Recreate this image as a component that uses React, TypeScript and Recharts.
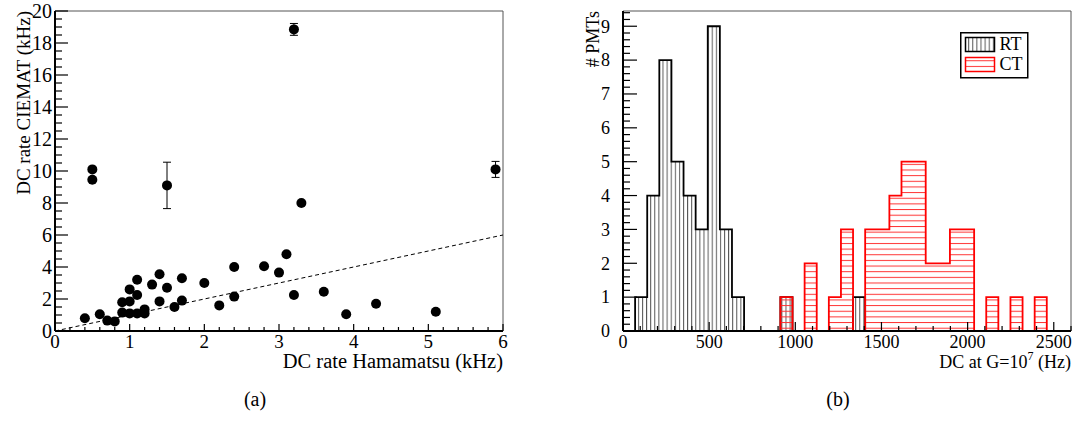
import React from 'react'
import {
  ScatterChart, Scatter, ErrorBar, AreaChart, Area,
  XAxis, YAxis, ReferenceLine, Label, Legend,
} from 'recharts'

const FONT = "'Liberation Serif', 'Times New Roman', serif"
const INK = '#000'
const FRAME = '#555'
const RED = '#f00'

// ── (a) dark-count rate per PMT, Hamamatsu vs CIEMAT (kHz) ─────────

const HAMAMATSU_KHZ = [
  0.4, 0.6, 0.7, 0.8, 0.9, 0.9, 1.0, 1.0, 1.0, 1.1, 1.1, 1.1, 1.2, 1.2,
  1.3, 1.4, 1.4, 1.5, 1.6, 1.7, 1.7, 2.0, 2.2, 2.4, 2.4, 2.8, 3.0, 3.1,
  3.2, 3.3, 3.6, 3.9, 4.3, 5.1, 0.5, 0.5, 1.5, 3.2, 5.9,
]
const CIEMAT_KHZ = [
  0.8, 1.05, 0.65, 0.6, 1.15, 1.8, 1.1, 1.85, 2.6, 3.2, 2.25, 1.1, 1.35, 1.1,
  2.9, 3.55, 1.85, 2.7, 1.5, 3.3, 1.9, 3.0, 1.6, 4.0, 2.15, 4.05, 3.65, 4.8,
  2.25, 8.0, 2.45, 1.05, 1.7, 1.2, 10.1, 9.45, 9.1, 18.85, 10.1,
]
const CIEMAT_ERR = [
  0, 0, 0, 0, 0, 0, 0, 0, 0, 0, 0, 0, 0, 0,
  0, 0, 0, 0, 0, 0, 0, 0, 0, 0, 0, 0, 0, 0,
  0, 0, 0, 0, 0, 0, 0, 0, 1.45, 0.37, 0.5,
]
// reference line y = x
const FIT_X = [0, 6]
const FIT_Y = [0, 6]

const A_X_MAJOR = [0, 1, 2, 3, 4, 5, 6]
const A_Y_MAJOR = [0, 2, 4, 6, 8, 10, 12, 14, 16, 18, 20]

// ── (b) dark count at G=1e7, 37 bins over 0–2600 Hz ───────────────

const DC_MIN = 0
const DC_MAX = 2600
const RT_COUNTS = [
  0, 1, 4, 8, 5, 4, 3, 9, 3, 1, 0, 0, 0, 1, 0, 0, 0, 0, 0, 1,
  0, 0, 0, 0, 0, 0, 0, 0, 0, 0, 0, 0, 0, 0, 0, 0, 0,
]
const CT_COUNTS = [
  0, 0, 0, 0, 0, 0, 0, 0, 0, 0, 0, 0, 0, 1, 0, 2, 0, 1, 3, 0,
  3, 3, 4, 5, 5, 2, 2, 3, 3, 0, 1, 0, 1, 0, 1, 0, 0,
]
const B_Y_MAX = 9.45

const B_X_MAJOR = [0, 500, 1000, 1500, 2000, 2500]
const B_Y_MAJOR = [0, 1, 2, 3, 4, 5, 6, 7, 8, 9]

// minor ticks: subdivide each major interval, clip to the axis range
function withMinor(majors: number[], sub: number, max: number) {
  const step = (majors[1] - majors[0]) / sub
  const out: number[] = []
  for (let v = majors[0]; v <= max + 1e-9; v += step) out.push(+v.toFixed(6))
  return out
}
const isMajor = (v: number, majors: number[]) => majors.some(m => Math.abs(m - v) < 1e-6)

// ROOT-style ticks: drawn inward from the axis, labels only on majors
function bottomTick(majors: number[], majorLen: number, minorLen: number, size: number, dy: number) {
  return (p: any) => {
    const { x, y, payload } = p
    const major = isMajor(payload.value, majors)
    return (
      <g>
        <line x1={x} x2={x} y1={y} y2={y - (major ? majorLen : minorLen)} stroke={INK} strokeWidth={1.2} />
        {major && (
          <text x={x} y={y + dy} textAnchor="middle" fontSize={size} fontFamily={FONT} fill={INK}>
            {payload.value}
          </text>
        )}
      </g>
    )
  }
}

function leftTick(majors: number[], majorLen: number, minorLen: number, size: number, gap: number) {
  return (p: any) => {
    const { x, y, payload } = p
    const major = isMajor(payload.value, majors)
    return (
      <g>
        <line x1={x} x2={x + (major ? majorLen : minorLen)} y1={y} y2={y} stroke={INK} strokeWidth={1.2} />
        {major && (
          <text x={x - gap} y={y} dy="0.35em" textAnchor="end" fontSize={size} fontFamily={FONT} fill={INK}>
            {payload.value}
          </text>
        )}
      </g>
    )
  }
}

// ── Panel (a): scatter with error bars ────────────────────────────

function RatePanel() {
  const points = HAMAMATSU_KHZ.map((x, i) => ({ x, y: CIEMAT_KHZ[i], err: CIEMAT_ERR[i] }))

  return (
    <ScatterChart width={540} height={380} margin={{ top: 11, right: 37, bottom: 9, left: 10 }}>
      <XAxis
        type="number" dataKey="x" domain={[0, 6]} ticks={withMinor(A_X_MAJOR, 5, 6)}
        interval={0} height={40} tickSize={0} tickMargin={0} tickLine={false}
        axisLine={{ stroke: INK, strokeWidth: 2 }}
        tick={bottomTick(A_X_MAJOR, 7, 4, 19, 17)}
      >
        <Label
          content={({ viewBox }: any) => (
            <text x={viewBox.x + viewBox.width} y={viewBox.y + 37} textAnchor="end"
              fontSize={20.5} fontFamily={FONT} fill={INK}>
              DC rate Hamamatsu (kHz)
            </text>
          )}
        />
      </XAxis>
      <YAxis
        type="number" dataKey="y" domain={[0, 20]} ticks={withMinor(A_Y_MAJOR, 4, 20)}
        interval={0} width={45} tickSize={0} tickMargin={0} tickLine={false}
        axisLine={{ stroke: INK, strokeWidth: 2 }}
        tick={leftTick(A_Y_MAJOR, 13, 7, 20, 3)}
      >
        <Label
          content={({ viewBox }: any) => (
            <text transform={`translate(${viewBox.x + 13}, ${viewBox.y}) rotate(-90)`}
              textAnchor="end" dy="0.35em" fontSize={19} fontFamily={FONT} fill={INK}>
              DC rate CIEMAT (kHz)
            </text>
          )}
        />
      </YAxis>

      <ReferenceLine y={20} stroke={FRAME} strokeWidth={1} />
      <ReferenceLine x={6} stroke={FRAME} strokeWidth={1} />
      <ReferenceLine
        segment={[{ x: FIT_X[0], y: FIT_Y[0] }, { x: FIT_X[1], y: FIT_Y[1] }]}
        stroke={INK} strokeWidth={1} strokeDasharray="4 3"
      />

      <Scatter
        data={points}
        dataKey="y"
        isAnimationActive={false}
        shape={(p: any) => <circle cx={p.cx} cy={p.cy} r={5} fill={INK} />}
      >
        <ErrorBar dataKey="err" direction="y" width={4} stroke={INK} strokeWidth={1} />
      </Scatter>
    </ScatterChart>
  )
}

// ── Panel (b): hatched histograms, RT vs CT ───────────────────────

function LegendBox() {
  return (
    <svg width={70} height={48} style={{ display: 'block' }}>
      <rect x={0.75} y={0.75} width={67} height={45} fill="#fff" stroke={INK} strokeWidth={1.5} />
      <rect x={5.5} y={5.5} width={29} height={14} fill="url(#hatchRT)" stroke={INK} strokeWidth={1.5} />
      <rect x={5.5} y={25.5} width={29} height={14} fill="url(#hatchCT)" stroke={RED} strokeWidth={1.5} />
      <text x={39.5} y={18} fontSize={18} fontFamily={FONT} fill={INK}>RT</text>
      <text x={39.5} y={38} fontSize={18} fontFamily={FONT} fill={INK}>CT</text>
    </svg>
  )
}

function DarkCountPanel() {
  const nBins = RT_COUNTS.length
  const binW = (DC_MAX - DC_MIN) / nBins
  // one point per bin low edge (stepAfter), closing point at the upper edge
  const hist = Array.from({ length: nBins + 1 }, (_, i) => ({
    x: DC_MIN + i * binW,
    rt: RT_COUNTS[i] ?? 0,
    ct: CT_COUNTS[i] ?? 0,
  }))

  return (
    <AreaChart width={514} height={380} data={hist} margin={{ top: 11, right: 3, bottom: 9, left: 17 }}>
      <defs>
        <pattern id="hatchRT" patternUnits="userSpaceOnUse" width={4.1} height={10}>
          <line x1={0.5} y1={0} x2={0.5} y2={10} stroke="#555" strokeWidth={1} />
        </pattern>
        <pattern id="hatchCT" patternUnits="userSpaceOnUse" width={10} height={5.65}>
          <line x1={0} y1={0.5} x2={10} y2={0.5} stroke="#f33" strokeWidth={1} />
        </pattern>
      </defs>

      <XAxis
        type="number" dataKey="x" domain={[DC_MIN, DC_MAX]} ticks={withMinor(B_X_MAJOR, 5, DC_MAX)}
        interval={0} height={40} tickSize={0} tickMargin={0} tickLine={false}
        axisLine={{ stroke: INK, strokeWidth: 2 }}
        tick={bottomTick(B_X_MAJOR, 9, 5, 18, 17)}
      >
        <Label
          content={({ viewBox }: any) => (
            <text x={viewBox.x + viewBox.width} y={viewBox.y + 37} textAnchor="end"
              fontSize={18} fontFamily={FONT} fill={INK}>
              DC at G=10<tspan dy={-8} fontSize={12}>7</tspan><tspan dy={8}> (Hz)</tspan>
            </text>
          )}
        />
      </XAxis>
      <YAxis
        type="number" domain={[0, B_Y_MAX]} ticks={withMinor(B_Y_MAJOR, 5, B_Y_MAX)}
        interval={0} width={46} tickSize={0} tickMargin={0} tickLine={false}
        axisLine={{ stroke: INK, strokeWidth: 2 }}
        tick={leftTick(B_Y_MAJOR, 14, 7, 18, 13)}
      >
        <Label
          content={({ viewBox }: any) => (
            <text transform={`translate(${viewBox.x + 16}, ${viewBox.y}) rotate(-90)`}
              textAnchor="end" dy="0.35em" fontSize={18} fontFamily={FONT} fill={INK}>
              # PMTs
            </text>
          )}
        />
      </YAxis>

      <ReferenceLine y={B_Y_MAX} stroke={FRAME} strokeWidth={1} />
      <ReferenceLine x={DC_MAX} stroke={FRAME} strokeWidth={1} />

      <Area
        type="stepAfter" dataKey="rt" baseValue={0}
        stroke={INK} strokeWidth={1.8} fill="url(#hatchRT)" fillOpacity={1}
        dot={false} activeDot={false} isAnimationActive={false}
      />
      <Area
        type="stepAfter" dataKey="ct" baseValue={0}
        stroke={RED} strokeWidth={1.8} fill="url(#hatchCT)" fillOpacity={1}
        dot={false} activeDot={false} isAnimationActive={false}
      />

      <Legend
        layout="vertical" align="center" verticalAlign="middle"
        wrapperStyle={{ left: 400, top: 32, width: 70, height: 48 }}
        content={() => <LegendBox />}
      />
    </AreaChart>
  )
}

export default function App() {
  return (
    <div style={{ position: 'absolute', left: 0, top: 0, width: 1074, height: 421, background: '#fff', fontFamily: FONT }}>
      <div style={{ position: 'absolute', left: 0, top: 0 }}>
        <RatePanel />
      </div>
      <div style={{ position: 'absolute', left: 560, top: 0 }}>
        <DarkCountPanel />
      </div>
      <div style={{ position: 'absolute', left: 235, top: 388, width: 40, textAlign: 'center', fontSize: 20 }}>(a)</div>
      <div style={{ position: 'absolute', left: 818, top: 388, width: 40, textAlign: 'center', fontSize: 20 }}>(b)</div>
    </div>
  )
}
